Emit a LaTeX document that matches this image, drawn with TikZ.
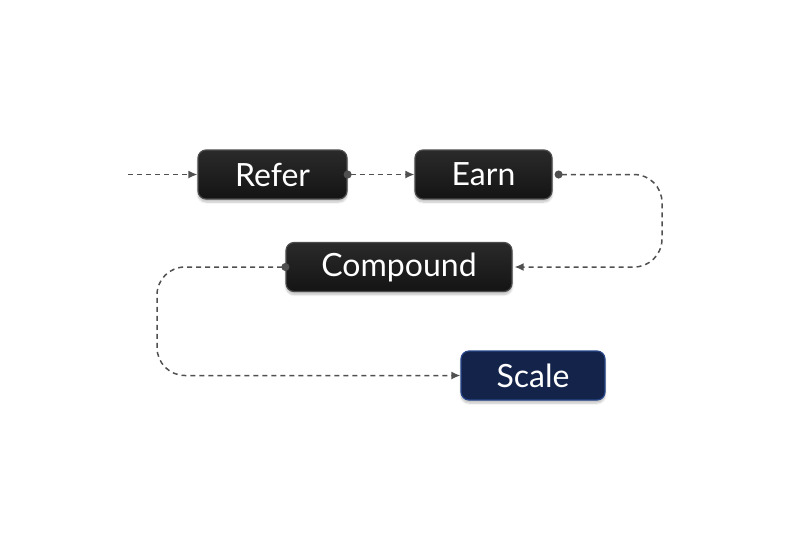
\documentclass[tikz,border=0pt]{standalone}
\usepackage{fontspec}
\setmainfont{Lato}
\usetikzlibrary{arrows.meta,shadows.blur}
\definecolor{boxtop}{HTML}{2A2A2A}
\definecolor{boxbot}{HTML}{141414}
\definecolor{boxline}{HTML}{4C4C4C}
\definecolor{navyfill}{HTML}{13234A}
\definecolor{navyline}{HTML}{28478A}
\definecolor{linkcol}{HTML}{505050}
\tikzset{
  stepbox/.style={rectangle, rounded corners=8pt, top color=boxtop, bottom color=boxbot,
    draw=boxline, line width=1.2pt, text=white, font=\fontsize{32}{36}\selectfont,
    minimum height=49pt, inner sep=0pt,
    blur shadow={shadow xshift=0pt, shadow yshift=-3pt, shadow blur steps=6, shadow opacity=25}},
  goalbox/.style={stepbox, top color=navyfill, bottom color=navyfill, draw=navyline},
  link/.style={draw=linkcol, line width=1.5pt, dash pattern=on 5pt off 4pt},
  tip/.style={-{Latex[length=9pt,width=8pt]}},
  dottip/.style={{Circle[length=8pt]}-{Latex[length=9pt,width=8pt]}},
}
\begin{document}
\begin{tikzpicture}[x=1pt,y=-1pt]
\useasboundingbox (0,0) rectangle (791,549);
\node[stepbox, minimum width=149pt] (refer) at (272.5,174.5) {Refer};
\node[stepbox, minimum width=137pt] (earn) at (483.5,174.5) {Earn};
\node[stepbox, minimum width=226pt] (compound) at (399,267) {Compound};
\node[goalbox, minimum width=144pt] (scale) at (533,375.5) {Scale};
\coordinate (start) at (128,174.5);
\coordinate (rturn) at (662,174.5);
\coordinate (lturn) at (157,267);
\draw[link, tip] (start) -- (refer.west);
\draw[link, dottip] ([xshift=-4pt]refer.east) -- (earn.west);
\draw[link, dottip, rounded corners=28pt] ([xshift=2pt]earn.east) -- (rturn) |- ([xshift=2pt]compound.east);
\draw[link, dottip, rounded corners=28pt] ([xshift=4pt]compound.west) -- (lturn) |- (scale.west);
\end{tikzpicture}
\end{document}
